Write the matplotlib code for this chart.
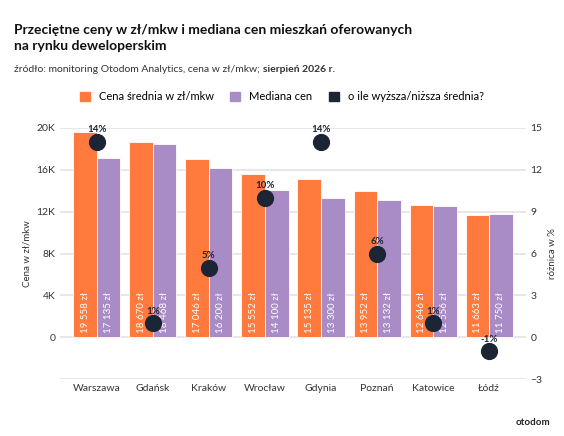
import matplotlib

matplotlib.use("Agg")
import matplotlib.pyplot as plt
import numpy as np
from matplotlib.ticker import FuncFormatter

cities = ["Warszawa", "Gdańsk", "Kraków", "Wrocław", "Gdynia", "Poznań", "Katowice", "Łódź"]
mean_price = [19558, 18670, 17046, 15552, 15135, 13952, 12646, 11663]
median_price = [17135, 18468, 16200, 14100, 13300, 13132, 12556, 11750]
diff_pct = [14, 1, 5, 10, 14, 6, 1, -1]

ORANGE = "#FF7A3C"
PURPLE = "#A98CC6"
DARK = "#1C2536"
plt.rcParams["font.family"] = ["Lato", "DejaVu Sans"]


def zl(v):
    return f"{v:,} zł".replace(",", " ")


fig = plt.figure(figsize=(5.64, 4.36), dpi=100)
ax = fig.add_axes([0.107, 0.13, 0.825, 0.577])
ax2 = ax.twinx()

x = np.arange(len(cities))
w = 0.42
ax.bar(x - w / 2, mean_price, w, color=ORANGE, edgecolor="white", lw=0.6, zorder=2)
ax.bar(x + w / 2, median_price, w, color=PURPLE, edgecolor="white", lw=0.6, zorder=2)
for xi, a, b in zip(x, mean_price, median_price):
    ax.text(xi - w / 2, 400, zl(a), rotation=90, ha="center", va="bottom",
            color="white", fontsize=7)
    ax.text(xi + w / 2, 400, zl(b), rotation=90, ha="center", va="bottom",
            color="white", fontsize=7)

ax.set_ylim(-4000, 20000)
ax.set_yticks([0, 4000, 8000, 12000, 16000, 20000])
ax.yaxis.set_major_formatter(FuncFormatter(lambda v, p: "0" if v == 0 else f"{int(v / 1000)}K"))
ax.set_ylabel("Cena w zł/mkw", fontsize=7, color="#333333")

ax2.set_ylim(-3, 15)
ax2.set_yticks([-3, 0, 3, 6, 9, 12, 15])
ax2.set_ylabel("różnica w %", fontsize=7, color="#333333")
for yv in [-3, 0, 3, 6, 9, 12, 15]:
    ax.axhline(yv / 15 * 20000, color="#E3E3E3", lw=1.2, zorder=0)
ax2.scatter(x, diff_pct, s=130, color=DARK, zorder=4)
for xi, d in zip(x, diff_pct):
    ax2.text(xi, d + 0.55, f"{d}%", ha="center", va="bottom", fontsize=7,
             color=DARK, fontweight="bold", zorder=5)

ax.set_xticks(x)
ax.set_xticklabels(cities, fontsize=7.5, color="#333333")
ax.set_xlim(-0.65, len(cities) - 0.35)
for a in (ax, ax2):
    for s in a.spines.values():
        s.set_visible(False)
    a.tick_params(length=0, labelsize=7.5, colors="#333333")
ax.set_zorder(ax2.get_zorder() - 1)
ax.patch.set_visible(False)
ax2.set_zorder(3)

fig.text(0.025, 0.945, "Przeciętne ceny w zł/mkw i mediana cen mieszkań oferowanych\nna rynku deweloperskim",
         fontsize=10, fontweight="bold", va="top", color="#111111", linespacing=1.4)
src = fig.text(0.025, 0.835, "źródło: monitoring Otodom Analytics, cena w zł/mkw; ", fontsize=7.5, color="#333333")
fig.canvas.draw()
bb = src.get_window_extent().transformed(fig.transFigure.inverted())
fig.text(bb.x1, 0.835, "sierpień 2026 r.", fontsize=7.5, color="#333333", fontweight="bold")

handles = [plt.Rectangle((0, 0), 1, 1, color=c) for c in (ORANGE, PURPLE, DARK)]
fig.legend(handles, ["Cena średnia w zł/mkw", "Mediana cen", "o ile wyższa/niższa średnia?"],
           loc="center", bbox_to_anchor=(0.5, 0.778), ncol=3, frameon=False, fontsize=8,
           handlelength=0.9, handleheight=0.9, columnspacing=1.5)

fig.text(0.975, 0.025, "otodom", fontsize=7, fontweight="bold", ha="right", color="#222222")

fig.savefig("out.png", dpi=100)
